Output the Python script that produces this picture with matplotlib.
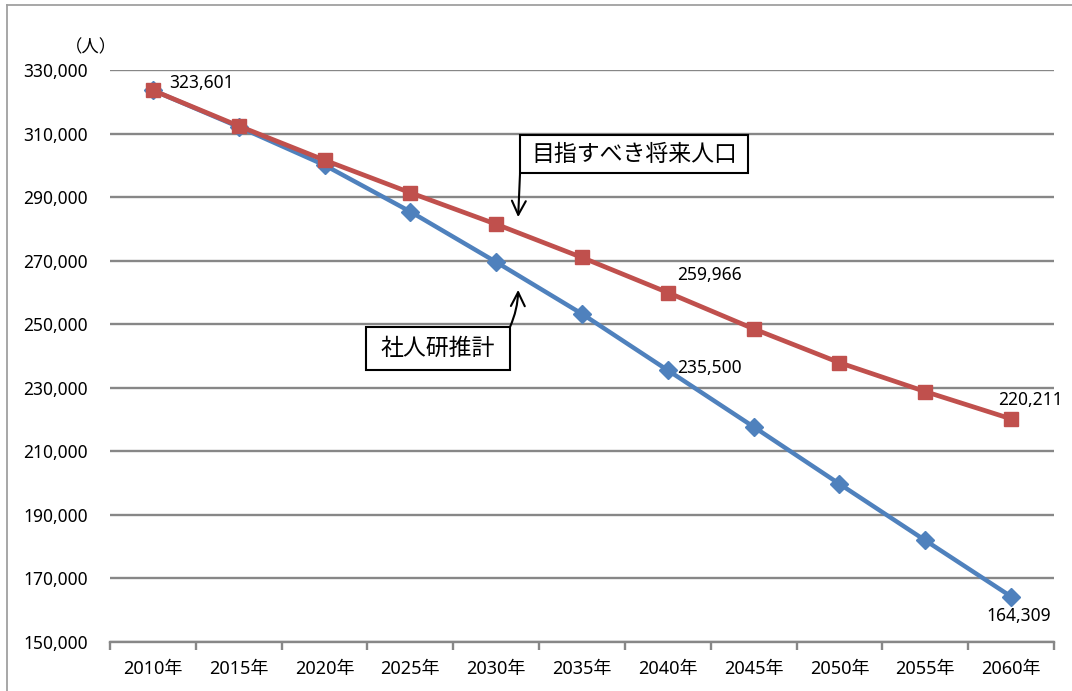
import matplotlib

matplotlib.use("Agg")

import matplotlib.pyplot as plt
from matplotlib.lines import Line2D
from matplotlib.patches import Rectangle
from matplotlib.ticker import FuncFormatter

plt.rcParams["font.family"] = ["Noto Sans", "Noto Sans CJK JP"]

years = ["2010年", "2015年", "2020年", "2025年", "2030年", "2035年",
         "2040年", "2045年", "2050年", "2055年", "2060年"]
# 社人研推計 (IPSS projection)
ipss = [323601, 312100, 300060, 285420, 269560, 253260,
        235500, 217710, 199740, 181970, 164309]
# 目指すべき将来人口 (target population)
target = [323601, 312380, 301630, 291380, 281470, 271000,
          259966, 248550, 237900, 228800, 220211]

RED = "#C0504D"
BLUE = "#4F81BD"
GRID = "#878787"
FS = 12.5

W, H = 1072, 691
fig = plt.figure(figsize=(W / 100, H / 100), dpi=100)
ax = fig.add_axes([110 / W, (H - 642) / H, 944 / W, 572 / H])

x = list(range(len(years)))
ax.plot(x, ipss, color=BLUE, lw=3.2, marker="D", ms=9, zorder=3)
ax.plot(x, target, color=RED, lw=3.4, marker="s", ms=10.5, zorder=4)

ax.set_xlim(-0.5, len(years) - 0.5)
ax.set_ylim(150000, 330000)
ax.set_yticks(range(150000, 330001, 20000))
ax.yaxis.set_major_formatter(FuncFormatter(lambda v, _: f"{int(v):,}"))
ax.grid(axis="y", color=GRID, lw=1.7)
ax.set_axisbelow(True)

ax.set_xticks(x)
ax.set_xticklabels(years)
ax.set_xticks([i - 0.5 for i in range(len(years) + 1)], minor=True)
ax.tick_params(axis="x", which="major", length=0, pad=13, labelsize=13)
ax.tick_params(axis="x", which="minor", length=6, width=1.7, color=GRID)
ax.tick_params(axis="y", length=0, pad=16, labelsize=FS)

for side in ("top", "right", "left"):
    ax.spines[side].set_visible(False)
ax.spines["bottom"].set_color(GRID)
ax.spines["bottom"].set_linewidth(1.7)

ax.text(-0.42, 337200, "（人）", ha="right", va="center", fontsize=FS,
        family=["Noto Sans CJK JP"])


def value_label(i, series, dx, dy, ha="left"):
    ax.annotate(f"{series[i]:,}", (i, series[i]), xytext=(dx, dy),
                textcoords="offset points", ha=ha, va="center", fontsize=FS)


# value labels at the ends and at 2040
value_label(0, target, 11.5, 5)
value_label(6, target, 7, 12.7)
value_label(6, ipss, 7, 2)
value_label(10, target, 14, 13.5, ha="center")
value_label(10, ipss, 5.5, -14, ha="center")


def callout(text, x0, x1, y0, y1, tail, tip, rad=0.0):
    ax.add_patch(Rectangle((x0, y0), x1 - x0, y1 - y0, fc="white", ec="black",
                           lw=1.5, zorder=5, clip_on=False))
    ax.text((x0 + x1) / 2, (y0 + y1) / 2, text, ha="center", va="center",
            fontsize=16.5, family=["Noto Sans CJK JP"], zorder=6)
    ax.annotate("", xy=tip, xytext=tail, zorder=6,
                arrowprops=dict(arrowstyle="->,head_length=1.0,head_width=0.5",
                                color="black", lw=1.5, shrinkA=0, shrinkB=0,
                                connectionstyle=f"arc3,rad={rad}"))


# callout boxes with arrows pointing at each line
callout("目指すべき将来人口", 4.278, 6.934, 297590, 309550,
        tail=(4.278, 297590), tip=(4.256, 283700))
callout("社人研推計", 2.483, 4.161, 235600, 249120,
        tail=(4.161, 249120), tip=(4.256, 260800), rad=0.1)

# outer chart frame
fig.add_artist(Line2D([7 / W, 1], [1 - 5 / H, 1 - 5 / H], color="#A0A0A0", lw=1.3))
fig.add_artist(Line2D([7 / W, 7 / W], [0, 1 - 5 / H], color="#A0A0A0", lw=1.3))

fig.savefig("out.png", dpi=100)
